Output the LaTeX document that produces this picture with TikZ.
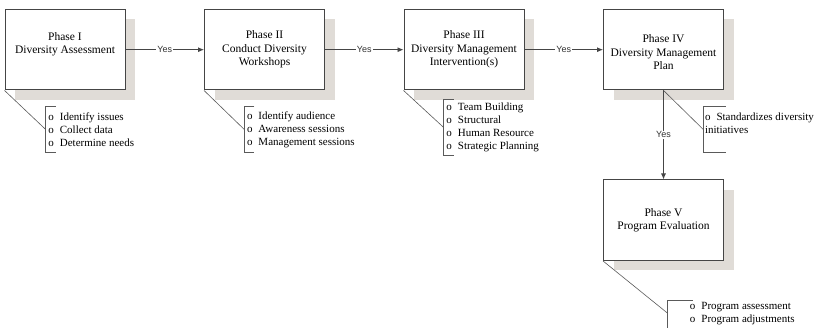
\documentclass[tikz,border=0pt]{standalone}
\usepackage{fontspec}
\setmainfont{Liberation Serif}
\newfontfamily\yesfont{Liberation Sans}
\usetikzlibrary{arrows.meta,positioning,shadows}
\definecolor{BoxLine}{HTML}{454545}
\definecolor{Shade}{HTML}{E0DCD7}
\definecolor{NoteLine}{HTML}{5A5A5A}
\newcommand{\obul}{o\hspace{6pt}}

\begin{document}
\begin{tikzpicture}[x=1pt,y=-1pt,
      phase/.style={rectangle,minimum width=120pt,minimum height=80.5pt,
      draw=BoxLine,line width=1pt,fill=white,align=center,
      font=\fontsize{11.5}{13.5}\selectfont,
      drop shadow={shadow xshift=10pt,shadow yshift=-10pt,fill=Shade,opacity=1}},
      note/.style={anchor=west,align=left,inner xsep=2.5pt,inner ysep=0pt,
      minimum height=45pt,font=\fontsize{11}{13}\selectfont},
      callout/.style={NoteLine,line width=0.6pt},
      arr/.style={-{Latex[length=6pt,width=5pt]},BoxLine,line width=0.8pt},
      yes/.style={fill=white,inner sep=1pt,text=black!80,
      font=\yesfont\fontsize{9}{10}\selectfont}]
      \useasboundingbox (0,0) rectangle (816,328);
      % phases
      \node[phase] (p1) at (65,49.7) {Phase I\\Diversity Assessment\\\mbox{}};
      \node[phase,right=78.5pt of p1] (p2) {Phase II\\Conduct Diversity\\Workshops};
      \node[phase,right=78.5pt of p2] (p3) {Phase III\\Diversity Management\\Intervention(s)};
      \node[phase,right=78.5pt of p3] (p4) {\mbox{}\\Phase IV\\Diversity Management\\Plan};
      \node[phase,below=89pt of p4] (p5) {Phase V\\Program Evaluation};
      \draw[arr] (p1) -- node[yes] {Yes} (p2);
      \draw[arr] (p2) -- node[yes] {Yes} (p3);
      \draw[arr] (p3) -- node[yes] {Yes} (p4);
      \draw[arr] (p4) -- node[yes] {Yes} (p5);
      % notes
      \node[note] (n1) at (45.7,129.5) {\obul Identify issues\\\obul Collect data\\\obul Determine needs};
      \node[note] (n2) at (244.3,129.5) {\obul Identify audience\\\obul Awareness sessions\\\obul Management sessions};
      \node[note,minimum height=55pt] (n3) at (443.7,127.5) {\obul Team Building\\\obul Structural\\\obul Human Resource\\\obul Strategic Planning};
      \node[note,inner xsep=1.5pt] (n4) at (703.3,129.5) {\obul Standardizes diversity\\initiatives\\\mbox{}};
      \coordinate (b5) at (667.7,313.3);
      \node[note,minimum height=0pt,inner xsep=0pt] (n5) at ([xshift=22pt]b5) {\obul Program assessment\\\obul Program adjustments};
      \foreach \n in {n1,n2,n3}
        \draw[callout] ([xshift=10pt]\n.north west) -- (\n.north west)
          -- (\n.south west) -- ([xshift=10pt]\n.south west);
      \draw[callout] ([xshift=22.5pt]n4.north west) -- (n4.north west)
        -- (n4.south west) -- ([xshift=22.5pt]n4.south west);
      \draw[callout] ([shift={(25pt,13.3pt)}]b5) -- ([yshift=13.3pt]b5)
        -- ([yshift=-25pt]b5);
      \draw[callout] (p1.south west) -- (n1.west);
      \draw[callout] (p2.south west) -- (n2.west);
      \draw[callout] (p3.south west) -- (n3.west);
      \draw[callout] (p4.south) -- (n4.west);
      \draw[callout] (p5.south west) -- (b5);
    \end{tikzpicture}
\end{document}
